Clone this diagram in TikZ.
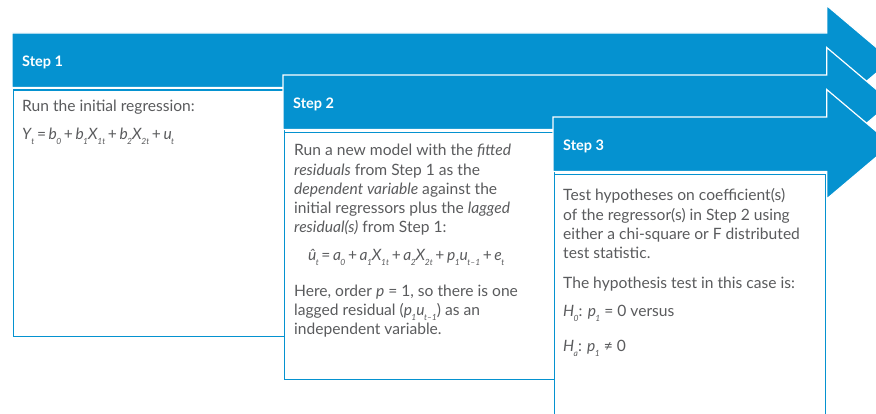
\documentclass[tikz,border=0pt]{standalone}
\usepackage{fontspec}
\setmainfont{Lato}
\definecolor{cfablue}{HTML}{0592D0}
\definecolor{txtgray}{HTML}{5A5B5D}
\newcommand\sbx[1]{\kern-0.6pt\raisebox{-0.55ex}{\fontsize{8.5}{8.5}\selectfont\itshape #1}}
\newcommand\iv[1]{\textit{#1}}
\newcommand\op[1]{\hspace{2.6pt}#1\hspace{2.6pt}}
\tikzset{
  arrowband/.style={fill=cfablue, draw=white, line width=1.2pt, line join=miter},
  stepbox/.style={draw=cfablue, fill=white, line width=1.3pt, inner sep=0pt, anchor=north west},
  steplabel/.style={anchor=base west, inner sep=0pt, text=white, font=\fontsize{14.5}{17}\selectfont\bfseries},
  bodytext/.style={anchor=base west, inner sep=0pt, text=txtgray, font=\fontsize{15.6}{18}\selectfont},
}
\begin{document}
\begin{tikzpicture}[x=1pt,y=-1pt]
\useasboundingbox (0,0) rectangle (876,414);
\begin{scope}
\clip (0,0) rectangle (876,414);
% arrow 1
\fill[arrowband] (12,33) -- (826.7,33) -- (826.7,5.5) -- (891.5,60.25) -- (826.7,115) -- (826.7,87.5) -- (12,87.5) -- cycle;
\node[steplabel] (h1) at (22,66.5) {Step 1};
\node[stepbox, minimum width=270.5pt, minimum height=246pt] (box1) at (13,89.5) {};
% arrow 2
\fill[arrowband] (283,75) -- (826.7,75) -- (826.7,47.5) -- (891.5,102.25) -- (826.7,157) -- (826.7,129.5) -- (283,129.5) -- cycle;
\node[steplabel] (h2) at (293,108.5) {Step 2};
\node[stepbox, minimum width=270pt, minimum height=246.5pt] (box2) at (283.5,132) {};
% arrow 3
\fill[arrowband] (553,117) -- (826.7,117) -- (826.7,89.5) -- (891.5,144.25) -- (826.7,199) -- (826.7,171.5) -- (553,171.5) -- cycle;
\node[steplabel] (h3) at (563,151) {Step 3};
\node[stepbox, minimum width=271.5pt, minimum height=260pt] (box3) at (553.5,174) {};
\end{scope}
% box 1 text
\node[bodytext] (t11) at (22,112) {Run the initial regression:};
\node[bodytext] (t12) at (22,140) {\iv{Y}\sbx{t}\op{=}\iv{b}\sbx{0}\op{+}\iv{b}\sbx{1}\iv{X}\sbx{1t}\op{+}\iv{b}\sbx{2}\iv{X}\sbx{2t}\op{+}\iv{u}\sbx{t}};
% box 2 text
\node[bodytext] (t21) at (294,156) {Run a new model with the \iv{fitted}};
\node[bodytext] (t22) at (294,175.2) {\iv{residuals} from Step 1 as the};
\node[bodytext] (t23) at (294,194.4) {\iv{dependent variable} against the};
\node[bodytext] (t24) at (294,213.6) {initial regressors plus the \iv{lagged}};
\node[bodytext] (t25) at (294,232.8) {\iv{residual(s)} from Step 1:};
\node[bodytext] (t26) at (308,261) {\iv{û}\sbx{t}\op{=}\iv{a}\sbx{0}\op{+}\iv{a}\sbx{1}\iv{X}\sbx{1t}\op{+}\iv{a}\sbx{2}\iv{X}\sbx{2t}\op{+}\iv{p}\sbx{1}\iv{u}\sbx{t–1}\op{+}\iv{e}\sbx{t}};
\node[bodytext] (t27) at (294,296.8) {Here, order \iv{p} = 1, so there is one};
\node[bodytext] (t28) at (294,315.8) {lagged residual (\iv{p}\sbx{1}\iv{u}\sbx{t–1}) as an};
\node[bodytext] (t29) at (294,334.8) {independent variable.};
% box 3 text
\node[bodytext] (t31) at (563,200.7) {Test hypotheses on coefficient(s)};
\node[bodytext] (t32) at (563,220.1) {of the regressor(s) in Step 2 using};
\node[bodytext] (t33) at (563,239.5) {either a chi-square or F distributed};
\node[bodytext] (t34) at (563,258.9) {test statistic.};
\node[bodytext] (t35) at (563,288.5) {The hypothesis test in this case is:};
\node[bodytext] (t36) at (563,316.7) {\iv{H}\sbx{0}: \iv{p}\sbx{1} = 0 versus};
\node[bodytext] (t37) at (563,351.7) {\iv{H}\sbx{a}: \iv{p}\sbx{1} ≠ 0};
\end{tikzpicture}
\end{document}
